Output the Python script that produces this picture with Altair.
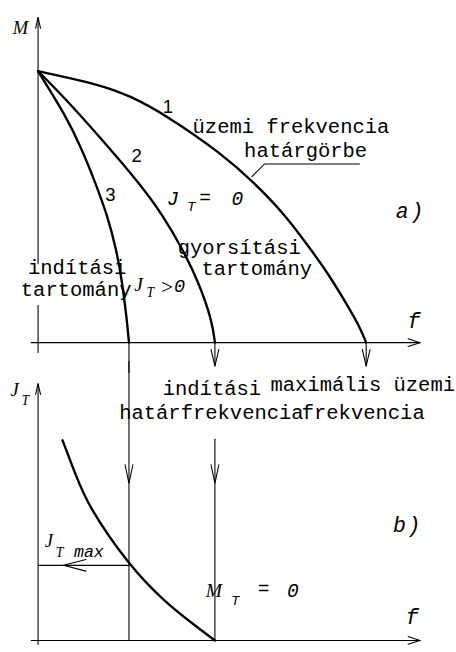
import altair as alt
import pandas as pd

# Frequency is given as a fraction of the maximum operating frequency,
# torque M as a fraction of the holding torque, J_T in relative units.
F_START_LIMIT = 0.277   # starting limit frequency (curve 3 reaches M = 0)
F_ACCEL_LIMIT = 0.539   # curve 2 reaches M = 0, where M_T = 0
F_MAX = 1.0             # maximum operating frequency (curve 1 reaches M = 0)
JT_MAX = 0.377          # largest load inertia that can still be started

# curve 1: operating-frequency limit curve
c1_f = [0.0, 0.1815, 0.280, 0.390, 0.5625, 0.661, 0.750, 0.8214, 0.8899, 0.9464, 0.9792, 1.0]
c1_m = [1.0, 0.953, 0.910, 0.838, 0.694, 0.586, 0.4748, 0.3597, 0.2446, 0.1295, 0.0612, 0.0]
# curve 2: J_T = 0 starting curve
c2_f = [0.0, 0.083, 0.1815, 0.310, 0.381, 0.440, 0.488, 0.530, 0.539]
c2_m = [1.0, 0.899, 0.766, 0.586, 0.468, 0.345, 0.227, 0.083, 0.0]
# curve 3: starting curve with J_T > 0
c3_f = [0.0, 0.0833, 0.131, 0.1756, 0.2113, 0.2381, 0.256, 0.2708, 0.277]
c3_m = [1.0, 0.8381, 0.7194, 0.5863, 0.4676, 0.3453, 0.2266, 0.0827, 0.0]
# panel b: load inertia against starting frequency
jt_f = [0.0744, 0.113, 0.152, 0.277, 0.381, 0.479, 0.539]
jt_v = [1.005, 0.838, 0.676, 0.377, 0.201, 0.0735, 0.0]

W = 456
H_A, H_B = 372, 280
PX_F = 336.0          # pixels per unit of f
PX_M = 278.0          # pixels per unit of M
PX_J = 204.0          # pixels per unit of J_T
X_DOM = [-39 / PX_F, (W - 39) / PX_F]
M_DOM = [-(H_A - 343) / PX_M, 343 / PX_M]
J_DOM = [-(H_B - 276) / PX_J, 276 / PX_J]

MONO = "Liberation Mono"
SERIF = "Liberation Serif"
SANS = "Liberation Sans"


def enc(ydom):
    return dict(
        x=alt.X("f:Q", scale=alt.Scale(domain=X_DOM, nice=False, zero=False), axis=None),
        y=alt.Y("v:Q", scale=alt.Scale(domain=ydom, nice=False, zero=False), axis=None),
    )


def curves(series, ydom, width=2.4, interp="basis"):
    rows = []
    for name, fs, vs in series:
        for i, (f, v) in enumerate(zip(fs, vs)):
            rows.append({"seg": name, "i": i, "f": f, "v": v})
    return alt.Chart(pd.DataFrame(rows)).mark_line(
        color="black", strokeWidth=width, interpolate=interp, strokeCap="round"
    ).encode(detail="seg:N", order="i:Q", **enc(ydom))


def polylines(paths, ydom):
    series = [(f"p{k}", [p[0] for p in pts], [p[1] for p in pts]) for k, pts in enumerate(paths)]
    return curves(series, ydom, width=1.1, interp="linear")


def texts(items, ydom, font, italic=False, align="center"):
    df = pd.DataFrame(items, columns=["label", "f", "v", "size"])
    return alt.Chart(df).mark_text(
        font=font, fontStyle="italic" if italic else "normal", align=align,
        baseline="alphabetic", color="black"
    ).encode(text="label:N", size=alt.Size("size:Q", scale=None, legend=None), **enc(ydom))


def down_arrow(f, tip, wing, dx=0.0119):
    return [(f - dx, wing), (f, tip), (f + dx, wing)]


# ---------- panel a: torque / frequency ----------
a_lines = [
    [(0, 1.198), (0, 0.291)],                       # M axis (broken by the label)
    [(0, 0.137), (0, -0.036)],
    [(-0.0074, 1.158), (0, 1.198), (0.0074, 1.158)],
    [(-0.0208, 0), (1.1637, 0)],                    # f axis
    [(1.128, 0.0144), (1.1637, 0), (1.128, -0.0144)],
    [(F_ACCEL_LIMIT, 0), (F_ACCEL_LIMIT, -0.0863)],
    down_arrow(F_ACCEL_LIMIT, -0.0863, -0.0252),
    [(F_MAX, 0), (F_MAX, -0.0863)],
    down_arrow(F_MAX, -0.0863, -0.0252),
    [(F_START_LIMIT, 0), (F_START_LIMIT, -0.11)],
    [(0.6518, 0.6115), (0.6905, 0.6583), (0.9792, 0.6583)],   # leader to curve 1
]

panel_a = alt.layer(
    polylines(a_lines, M_DOM),
    curves([("1", c1_f, c1_m), ("2", c2_f, c2_m), ("3", c3_f, c3_m)], M_DOM),
    texts([("1", 0.3958, 0.8453, 19), ("2", 0.3006, 0.6655, 19),
           ("3", 0.2202, 0.5216, 19)], M_DOM, SANS),
    texts([("üzemi frekvencia", 0.7708, 0.7734, 21), ("határgörbe", 0.8155, 0.6835, 21),
           ("gyorsítási", 0.6131, 0.3273, 21), ("tartomány", 0.6667, 0.2482, 21),
           ("indítási", 0.119, 0.2518, 21), ("tartomány", 0.1161, 0.1727, 21),
           ("=", 0.5089, 0.5108, 20)], M_DOM, MONO),
    texts([("J", 0.4107, 0.5072, 20), ("T", 0.4673, 0.4856, 14), ("0", 0.6071, 0.5072, 20),
           ("a", 1.1101, 0.4604, 22), (")", 1.1548, 0.4604, 22),
           ("0", 0.4315, 0.1871, 19), ("f", 1.1458, 0.054, 22)], M_DOM, MONO, italic=True),
    texts([("M", -0.0536, 1.1367, 19), ("J", 0.3065, 0.1906, 20),
           ("T", 0.3423, 0.1691, 14)], M_DOM, SERIF, italic=True),
    texts([(">", 0.3929, 0.1799, 22)], M_DOM, SERIF),
).properties(width=W, height=H_A)

# ---------- panel b: load inertia / frequency ----------
b_lines = [
    [(0, 1.289), (0, -0.02)],                       # J_T axis
    [(-0.0074, 1.2353), (0, 1.289), (0.0074, 1.2353)],
    [(-0.0208, 0), (1.1637, 0)],                    # f axis
    [(1.128, 0.0196), (1.1637, 0), (1.128, -0.0196)],
    [(F_START_LIMIT, 1.40), (F_START_LIMIT, 0)],
    down_arrow(F_START_LIMIT, 0.789, 0.882),
    [(F_ACCEL_LIMIT, 1.0098), (F_ACCEL_LIMIT, 0)],
    down_arrow(F_ACCEL_LIMIT, 0.789, 0.882),
    [(0, JT_MAX), (F_START_LIMIT, JT_MAX)],
    [(0.1458, 0.4069), (0.0774, JT_MAX), (0.1458, 0.348)],
]

panel_b = alt.layer(
    polylines(b_lines, J_DOM),
    curves([("jt", jt_f, jt_v)], J_DOM),
    texts([("indítási", 0.5298, 1.2304, 21), ("határfrekvencia", 0.5283, 1.1127, 21),
           ("frekvencia", 0.991, 1.1127, 21), ("=", 0.6875, 0.2304, 20)], J_DOM, MONO),
    texts([("maximális üzemi", 0.7083, 1.25, 21)], J_DOM, MONO, align="left"),
    texts([("max", 0.1548, 0.4167, 17), ("b", 1.1012, 0.5441, 22), (")", 1.1458, 0.5441, 22),
           ("T", 0.6012, 0.1765, 14), ("0", 0.7768, 0.2206, 20),
           ("f", 1.1399, 0.0833, 22)], J_DOM, MONO, italic=True),
    texts([("J", -0.0714, 1.2255, 19), ("T", -0.0387, 1.1814, 14),
           ("J", 0.0327, 0.4706, 19), ("T", 0.0655, 0.4167, 14),
           ("M", 0.5357, 0.2206, 20)], J_DOM, SERIF, italic=True),
).properties(width=W, height=H_B)

chart = alt.vconcat(panel_a, panel_b, spacing=0, bounds="flush").properties(
    padding=0, background="white"
).configure_view(stroke=None)

chart.save("out.html", embed_options={"renderer": "svg", "actions": False})
